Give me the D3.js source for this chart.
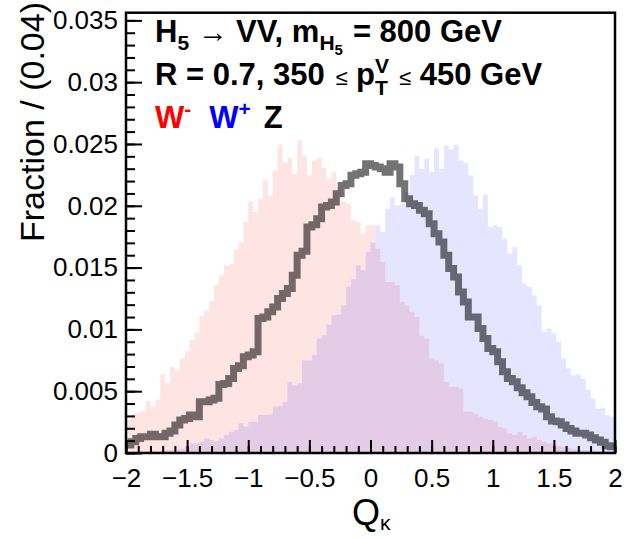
<!DOCTYPE html>
<html><head><meta charset="utf-8">
<script src="https://cdn.jsdelivr.net/npm/d3@7"></script>
<style>body{margin:0;background:#fff} svg{display:block}</style>
</head><body><svg id="c" width="625" height="538"></svg>
<script>
const binLow = -2, binWidth = 0.04;
const wMinus = [0.00267,0.00307,0.00328,0.00339,0.00420,0.00374,0.00433,0.00638,0.00568,0.00697,
0.00670,0.00765,0.00824,0.00918,0.00975,0.01109,0.01155,0.01230,0.01362,0.01438,
0.01519,0.01532,0.01648,0.01707,0.01869,0.02036,0.01949,0.02057,0.02213,0.02084,
0.02286,0.02493,0.02353,0.02386,0.02259,0.02528,0.02402,0.02246,0.02367,0.02388,
0.02305,0.02219,0.02272,0.02140,0.02036,0.02017,0.01882,0.01869,0.01774,0.01842,
0.01842,0.01653,0.01546,0.01384,0.01384,0.01357,0.01222,0.01195,0.01142,0.01101,
0.00948,0.00926,0.00765,0.00751,0.00724,0.00576,0.00536,0.00536,0.00522,0.00334,
0.00334,0.00320,0.00293,0.00280,0.00267,0.00253,0.00213,0.00199,0.00159,0.00145,
0.00172,0.00145,0.00118,0.00132,0.00105,0.00092,0.00078,0.00070,0.00059,0.00051,
0.00043,0.00030,0.00030,0.00025,0.00020,0.00020,0.00015,0.00012,0.00010,0.00010];
const wPlus = [0.00010,0.00012,0.00010,0.00015,0.00012,0.00018,0.00015,0.00020,0.00022,0.00025,
0.00028,0.00035,0.00051,0.00078,0.00078,0.00092,0.00118,0.00105,0.00097,0.00118,
0.00145,0.00172,0.00186,0.00240,0.00213,0.00253,0.00253,0.00307,0.00307,0.00312,
0.00374,0.00380,0.00415,0.00576,0.00549,0.00563,0.00751,0.00751,0.00792,0.00926,
0.00953,0.01039,0.01115,0.01120,0.01195,0.01344,0.01405,0.01519,0.01478,0.01626,
0.01700,0.01842,0.01788,0.01976,0.02070,0.02003,0.02017,0.02110,0.02250,0.02402,
0.02299,0.02380,0.02272,0.02466,0.02299,0.02488,0.02456,0.02493,0.02367,0.02348,
0.02246,0.02084,0.01971,0.02089,0.01828,0.01842,0.01828,0.01734,0.01613,0.01667,
0.01519,0.01371,0.01344,0.01276,0.01195,0.00980,0.01007,0.00967,0.00899,0.00765,
0.00684,0.00630,0.00635,0.00603,0.00509,0.00442,0.00361,0.00366,0.00307,0.00293];
const zBoson = [0.00065,0.00092,0.00118,0.00132,0.00132,0.00151,0.00132,0.00132,0.00159,0.00178,
0.00226,0.00267,0.00280,0.00307,0.00293,0.00415,0.00415,0.00428,0.00442,0.00555,
0.00563,0.00603,0.00684,0.00705,0.00778,0.00792,0.00819,0.01088,0.01101,0.01142,
0.01182,0.01249,0.01290,0.01330,0.01438,0.01599,0.01632,0.01828,0.01847,0.01896,
0.01990,0.02003,0.02030,0.02097,0.02165,0.02178,0.02246,0.02259,0.02272,0.02340,
0.02326,0.02313,0.02299,0.02272,0.02340,0.02313,0.02178,0.02057,0.02017,0.02003,
0.01963,0.01936,0.01855,0.01774,0.01707,0.01599,0.01492,0.01424,0.01303,0.01222,
0.01101,0.01101,0.01007,0.00926,0.00845,0.00819,0.00738,0.00657,0.00603,0.00576,
0.00528,0.00487,0.00455,0.00409,0.00374,0.00355,0.00293,0.00258,0.00253,0.00226,
0.00199,0.00178,0.00159,0.00159,0.00145,0.00124,0.00105,0.00086,0.00059,0.00051];
const xTicks = [-2,-1.5,-1,-0.5,0,0.5,1,1.5,2];
const yTicks = [0,0.005,0.01,0.015,0.02,0.025,0.03,0.035];
const yMax = 0.03562;

const FONT = "'Liberation Sans', Arial, Helvetica, sans-serif";
const svg = d3.select('#c');
const L = 126, R = 615, T = 12.7, B = 453;
const x = d3.scaleLinear().domain([-2, 2]).range([L, R]);
const y = d3.scaleLinear().domain([0, yMax]).range([B, T]);

function stepPts(vals) {
  const pts = [];
  vals.forEach((v, i) => { const x0 = binLow + i * binWidth; pts.push([x0, v]); pts.push([x0 + binWidth, v]); });
  return pts;
}
svg.append('defs').append('clipPath').attr('id', 'clip')
  .append('rect').attr('x', L).attr('y', T).attr('width', R - L).attr('height', B - T);
const plot = svg.append('g').attr('clip-path', 'url(#clip)');
const area = d3.area().x(d => x(d[0])).y0(y(0)).y1(d => y(d[1]));
const line = d3.line().x(d => x(d[0])).y(d => y(d[1]));

plot.append('path').attr('d', area(stepPts(wMinus))).attr('fill', '#ff0000').attr('fill-opacity', 0.105);
plot.append('path').attr('d', area(stepPts(wPlus))).attr('fill', '#0000ff').attr('fill-opacity', 0.1);
plot.append('path').attr('d', line(stepPts(zBoson))).attr('fill', 'none')
  .attr('stroke', '#000').attr('stroke-opacity', 0.55).attr('stroke-width', 7)
  .attr('stroke-linejoin', 'miter').attr('stroke-linecap', 'butt');

// axes
const minorX = d3.range(-20, 21).map(k => k / 10);
const minorY = d3.range(0, 36).map(k => k / 1000);
const gxm = svg.append('g').attr('transform', `translate(0,${B})`)
  .call(d3.axisBottom(x).tickValues(minorX).tickSize(-7).tickFormat(''));
const gx = svg.append('g').attr('transform', `translate(0,${B})`)
  .call(d3.axisBottom(x).tickValues(xTicks).tickSize(-13).tickPadding(16)
    .tickFormat(d => String(d).replace('-', '\u2212')));
const gym = svg.append('g').attr('transform', `translate(${L},0)`)
  .call(d3.axisLeft(y).tickValues(minorY).tickSize(-9).tickFormat(''));
const gy = svg.append('g').attr('transform', `translate(${L},0)`)
  .call(d3.axisLeft(y).tickValues(yTicks).tickSize(-16).tickPadding(8)
    .tickFormat(d => d === 0 ? '0' : String(+d.toFixed(3))));
[gxm, gx, gym, gy].forEach(g => {
  g.select('.domain').remove();
  g.selectAll('line').attr('stroke', '#000').attr('stroke-width', 2);
  g.selectAll('text').style('font-family', FONT).style('font-size', '26px').attr('fill', '#000');
});

svg.append('rect').attr('x', L).attr('y', T).attr('width', R - L).attr('height', B - T)
  .attr('fill', 'none').attr('stroke', '#000').attr('stroke-width', 2.5);

// axis titles
svg.append('text').attr('transform', 'translate(44,2) rotate(-90)').attr('text-anchor', 'end')
  .style('font-family', FONT).style('font-size', '34px').text('Fraction / (0.04)');
const xt = svg.append('text').attr('x', 352).attr('y', 525).style('font-family', FONT).style('font-size', '36px');
xt.append('tspan').text('Q');
xt.append('tspan').attr('dy', 5).style('font-size', '21px').text('\u03BA');

// rich text helper
function rich(x0, yb, parts) {
  let cx = x0, held = null;
  parts.forEach(p => {
    if (p.gap) { cx += p.gap; return; }
    const t = svg.append('text').attr('x', cx).attr('y', yb + (p.dy || 0)).text(p.t)
      .style('font-family', FONT).style('font-size', (p.s || 31) + 'px')
      .style('font-weight', p.w || 'bold').attr('fill', p.c || '#000')
      .style('white-space', 'pre').attr('xml:space', 'preserve');
    const w = t.node().getComputedTextLength();
    if (p.noadv) { held = w; return; }
    cx += held !== null ? Math.max(w, held) : w;
    held = null;
  });
}
rich(155, 42, [
  {t: 'H'}, {t: '5', s: 21, dy: 8}, {gap: 9}, {t: '\u2192', w: 'normal', s: 30}, {gap: 8},
  {t: 'VV, m'}, {t: 'H', s: 21, dy: 8}, {t: '5', s: 15, dy: 13}, {gap: 10}, {t: '= 800 GeV'}
]);
rich(155, 85, [
  {t: 'R = 0.7, 350 '}, {gap: 2}, {t: '\u2264', w: 'normal', s: 22}, {t: ' p'},
  {t: 'T', s: 21, dy: 10, noadv: true}, {t: 'V', s: 21, dy: -12}, {gap: 10},
  {t: '\u2264', w: 'normal', s: 22}, {t: ' 450 GeV'}
]);
rich(155, 128, [
  {t: 'W', c: '#ff0000'}, {t: '-', s: 21, dy: -12, c: '#ff0000'}, {gap: 18},
  {t: 'W', c: '#0000ff'}, {t: '+', s: 21, dy: -12, c: '#0000ff'}, {gap: 13}, {t: 'Z'}
]);
</script></body></html>
